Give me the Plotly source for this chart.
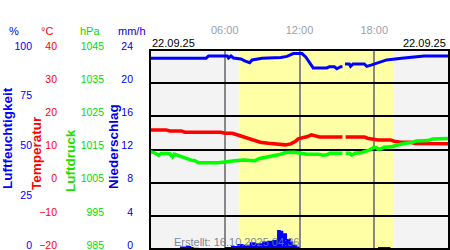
import plotly.graph_objects as go

# ---- data (hours of 22.09.25) ----
hum_t = [0, 4.5, 4.7, 6.2, 6.3, 6.5, 6.7, 7.3, 7.6, 8.0, 8.2, 9.0, 10.5, 11.0, 11.5, 12.2, 12.5, 12.8, 13.1, 14.2, 14.4,
         14.8, 15.0, 15.3, 15.45, 15.55, 15.65, 16.0, 16.1, 16.3, 17.2, 17.4, 17.8, 18.4, 19.0, 20.2, 21.6, 22.0, 24]
hum_v = [95.8, 95.8, 97.0, 97.0, 96.0, 97.0, 96.0, 95.5, 94.5, 93.6, 95.0, 95.8, 96.2, 96.8, 98.2, 98.2, 96.5, 94.0, 91.0,
         91.0, 91.6, 91.6, 90.6, 91.6, 91.6, None, 93.0, 93.0, 91.8, 93.0, 93.0, 91.8, 92.5, 93.8, 95.0, 95.8, 96.5, 97.0, 97.0]

temp_t = [0, 1.3, 1.6, 2.5, 2.8, 5.7, 6.0, 6.6, 6.85, 7.2, 7.6, 8.0, 8.4, 8.85, 9.5, 10.25, 10.85, 11.3, 11.65, 11.9,
          12.2, 12.65, 12.95, 13.3, 13.6, 15.45, 15.55, 15.7, 17.2, 17.45, 17.9, 18.3, 19.3, 19.6, 20.1, 20.9, 21.3, 24]
temp_v = [15.9, 15.9, 15.6, 15.6, 15.2, 15.2, 14.9, 14.9, 14.6, 14.2, 13.7, 13.2, 12.7, 12.2, 11.9, 11.6, 11.4, 11.7, 12.4,
          13.2, 13.4, 13.9, 14.4, 14.1, 13.8, 13.8, None, 13.8, 13.8, 13.4, 13.1, 12.9, 12.9, 12.5, 12.2, 12.2, 11.8, 11.7]

pres_t = [0, 0.2, 0.45, 0.7, 0.9, 1.55, 1.7, 1.8, 1.95, 2.3, 2.8, 3.3, 3.6, 3.9, 5.5, 6.0, 6.8, 7.5, 8.1, 8.4, 8.8, 9.5,
          10.3, 10.9, 11.6, 12.1, 12.6, 13.5, 13.9, 14.2, 14.45, 15.45, 15.55, 15.7, 16.0, 16.2, 16.45, 17.0, 17.3, 17.65,
          17.95, 18.15, 18.3, 18.55, 18.8, 19.4, 19.7, 20.1, 20.5, 21.0, 21.4, 22.3, 22.7, 24]
pres_v = [1014.3, 1014.2, 1013.8, 1013.3, 1013.8, 1013.8, 1013.2, 1012.8, 1013.6, 1013.1, 1012.4, 1011.8, 1011.6, 1011.0,
          1011.0, 1011.3, 1011.6, 1011.8, 1011.8, 1011.6, 1012.3, 1012.8, 1013.4, 1014.1, 1014.2, 1013.9, 1013.6, 1013.6,
          1013.3, 1013.4, 1013.9, 1013.9, None, 1013.9, 1013.9, 1013.3, 1013.9, 1014.1, 1014.4, 1014.9, 1015.6, 1015.6,
          1015.1, 1015.2, 1015.7, 1015.8, 1016.2, 1016.6, 1016.9, 1017.1, 1017.6, 1017.7, 1018.2, 1018.3]

rain_t = [0, 1.6, 2.2, 2.4, 2.9, 3.3, 3.5, 3.9, 6.0, 6.5, 7.0, 7.5, 8.0, 8.5, 9.0, 9.4, 9.8, 10.2, 10.5, 10.7, 11.0,
          11.3, 11.5, 11.8, 12.0, 12.1, 12.3, 18.3, 19.3, 24]
rain_v = [0, 0.12, 0, 0.3, 0.35, 0.25, 0.15, 0, 0.25, 0.35, 0.6, 0.5, 0.8, 0.7, 0.9, 1.0, 1.1, 2.3, 2.2, 1.9, 1.2,
          0.9, 0.5, 0.3, 0, 0.1, 0, 0.25, 0, 0]

sunrise, sunset = 7.13, 19.55
time_ticks = [6, 12, 18]
time_labels = ["06:00", "12:00", "18:00"]
hum_ticks = [0, 25, 50, 75, 100]
temp_ticks = [-20, -10, 0, 10, 20, 30, 40]
pres_ticks = [985, 995, 1005, 1015, 1025, 1035, 1045]
rain_ticks = [0, 4, 8, 12, 16, 20, 24]
date_label = "22.09.25"
created = "Erstellt: 16.10.2025 04:36"

FONT = "Liberation Sans, Arial, sans-serif"
W, H = 450, 250
ML, MR, MT, MB = 0, 1, 50, 1
PW = W - ML - MR
PH = H - MT - MB


def px_x(p):
    return p / PW


def px_y(p):
    return (H - MB - p) / PH


BLUE, RED, GREEN = "#0000ff", "#ff0000", "#00ff00"

fig = go.Figure()
fig.add_trace(go.Scatter(x=temp_t, y=temp_v, yaxis="y", mode="lines",
                         line=dict(color=RED, width=3.5), connectgaps=False, hoverinfo="skip"))
fig.add_trace(go.Scatter(x=hum_t, y=hum_v, yaxis="y2", mode="lines",
                         line=dict(color=BLUE, width=3), connectgaps=False, hoverinfo="skip"))
fig.add_trace(go.Scatter(x=pres_t, y=pres_v, yaxis="y3", mode="lines",
                         line=dict(color=GREEN, width=3.5), connectgaps=False, hoverinfo="skip"))
fig.add_trace(go.Scatter(x=rain_t, y=rain_v, yaxis="y4", mode="lines", fill="tozeroy",
                         fillcolor=BLUE, line=dict(color=BLUE, width=0, shape="hv"), hoverinfo="skip"))

tickfont = dict(family=FONT, size=10.5)


def yax(rng, ticks, color, pos, grid=False, overlay=None):
    d = dict(range=rng, tickvals=ticks, anchor="free", position=px_x(pos), side="left",
             showgrid=grid, zeroline=False, showline=False, ticks="",
             tickfont=dict(tickfont, color=color), automargin=False, fixedrange=True,
             ticklabelshift=-4, ticklabeloverflow="allow")
    if grid:
        d.update(gridcolor="black", gridwidth=2)
    if overlay:
        d["overlaying"] = overlay
    return d


fig.update_layout(
    width=W, height=H, margin=dict(l=ML, r=MR, t=MT, b=MB),
    paper_bgcolor="white", plot_bgcolor="#f3f3f3", showlegend=False,
    xaxis=dict(range=[0, 24], domain=[px_x(150), 1], side="top", tickvals=time_ticks, ticktext=time_labels,
               showgrid=True, gridcolor="#888888", gridwidth=2, zeroline=False, showline=False,
               ticks="outside", ticklen=11, tickcolor="rgba(0,0,0,0)",
               tickfont=dict(family=FONT, size=11, color="#9aa0ae"), automargin=False, fixedrange=True),
    yaxis=yax([-20, 40], temp_ticks, RED, 57, grid=True),
    yaxis2=yax([0, 100], hum_ticks, BLUE, 32, overlay="y"),
    yaxis3=yax([985, 1045], pres_ticks, "#00dd00", 104, overlay="y"),
    yaxis4=yax([0, 24], rain_ticks, "#0000dd", 133, overlay="y"),
    shapes=[
        dict(type="rect", xref="x", yref="y domain", x0=sunrise, x1=sunset, y0=0, y1=1,
             fillcolor="#ffffa6", line=dict(width=0), layer="below"),
        dict(type="rect", xref="x domain", yref="y domain", x0=0, x1=1, y0=0, y1=1,
             fillcolor="rgba(0,0,0,0)", line=dict(color="black", width=2), layer="above"),
    ],
)

ann = []
for txt, xc, col in [("%", 14, BLUE), ("°C", 47, RED), ("hPa", 90, "#00dd00"), ("mm/h", 132, "#0000dd")]:
    ann.append(dict(text=txt, x=px_x(xc), y=px_y(31), xref="paper", yref="paper", showarrow=False,
                    xanchor="center", yanchor="middle", font=dict(family=FONT, size=11, color=col)))
for txt, xc, yc, col in [("Luftfeuchtigkeit", 7, 138, BLUE), ("Temperatur", 36, 153, RED),
                         ("Luftdruck", 70, 161, "#22dd00"), ("Niederschlag", 113, 147, "#0000dd")]:
    ann.append(dict(text="<b>" + txt + "</b>", x=px_x(xc), y=px_y(yc), xref="paper", yref="paper",
                    showarrow=False, textangle=-90, xanchor="center", yanchor="middle",
                    font=dict(family=FONT, size=13.5, color=col)))
ann.append(dict(text=date_label, x=0, y=1, xref="x domain", yref="y domain", xanchor="left", yanchor="bottom",
                showarrow=False, font=dict(family=FONT, size=11, color="black"), yshift=-1))
ann.append(dict(text=date_label, x=1, y=1, xref="x domain", yref="y domain", xanchor="right", yanchor="bottom",
                showarrow=False, font=dict(family=FONT, size=11, color="black"), yshift=-1, xshift=-1))
ann.append(dict(text=created, x=px_x(237), y=px_y(242), xref="paper", yref="paper", xanchor="center",
                yanchor="middle", showarrow=False, font=dict(family=FONT, size=11, color="rgba(110,118,135,0.9)")))
fig.update_layout(annotations=ann)

fig.write_html("out.html")
